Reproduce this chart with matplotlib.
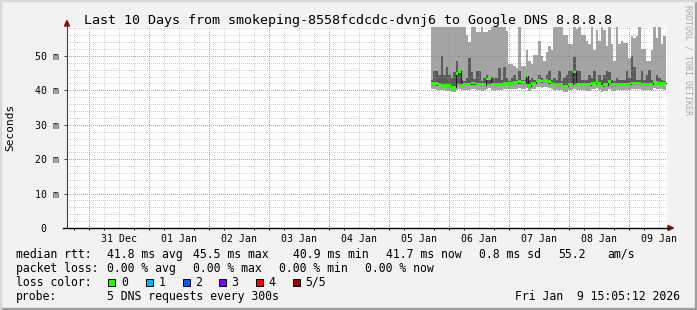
import numpy as np
import pandas as pd
import matplotlib
matplotlib.use("Agg")
import matplotlib.pyplot as plt
from matplotlib.patches import Rectangle, Polygon
from matplotlib.lines import Line2D

W, H = 697, 310
MONO = "DejaVu Sans Mono"

# hourly smokeping values (ms), first bin starts 05 Jan 16:40
# 5 pings sorted: light_low <= dark_low <= median <= dark_top <= light_top
light_top = [60, 60, 60, 60, 60, 60, 60, 60, 60, 60, 60, 60, 60, 60, 56.1, 54.0,
             60, 60, 56.9, 56.9, 60, 57.0, 57.0, 57.5,
             60, 60, 60, 60, 60, 60, 57.2, 47.6, 47.6, 47.0, 46.6, 60, 47.0, 47.0,
             51.7, 48.4, 47.6, 50.3, 50.3, 54.2, 49.9, 48.4, 51.1, 53.0,
             51.7, 60, 60, 60, 60, 56.1, 56.1, 53.5, 53.5, 60, 57.8, 60, 56.0, 56.0,
             54.2, 53.5, 60, 51.6, 57.5, 54.2, 60, 57.5, 53.0, 60,
             53.5, 48.6, 60, 53.5, 54.2, 53.7, 53.7, 49.3, 55.7, 55.2, 55.7, 60,
             52.0, 52.0, 48.6, 48.6, 51.6, 60, 55.2, 60, 53.5, 55.7]
dark_top = [43.0, 45.6, 45.6, 44.5, 50.0, 44.4, 46.9, 44.5, 43.6, 45.2, 48.6, 46.0,
            43.0, 42.6, 43.6, 49.3, 45.2, 43.2, 45.6, 45.6, 42.6, 43.6, 44.5, 43.6,
            44.0, 43.5, 43.5, 46.4, 42.9, 46.9, 43.5, 42.6, 43.5, 44.4, 43.0, 45.5,
            42.9, 43.0, 44.7, 43.0, 43.5, 43.0, 43.3, 44.4, 43.5, 43.3, 44.4, 45.7,
            43.0, 43.5, 43.0, 45.7, 42.8, 43.5, 44.4, 45.7, 45.7, 49.8, 46.0, 45.7,
            43.0, 43.0, 43.0, 44.4, 43.5, 45.7, 43.0, 44.4, 43.0, 44.4, 45.7, 45.2,
            43.0, 42.6, 43.5, 43.0, 43.0, 43.0, 45.7, 43.5, 50.1, 46.7, 43.0, 43.0,
            45.7, 43.0, 44.4, 45.9, 43.0, 43.0, 44.4, 43.5, 43.0, 42.6]
median = [41.9, 41.9, 41.9, 41.8, 41.5, 41.5, 41.5, 41.3, 40.9, 40.9, 44.8, 45.5,
          41.5, 41.7, 41.8, 41.8, 42.1, 42.1, 41.8, 41.8, 41.6, 41.6, 43.3, 43.3,
          41.8, 41.8, 41.8, 41.8, 41.8, 42.0, 42.0, 42.0, 42.0, 42.2, 42.2, 42.6,
          42.2, 42.2, 44.2, 41.3, 42.0, 42.0, 42.9, 42.9, 42.7, 42.9, 42.9, 42.5,
          42.0, 41.8, 41.8, 41.8, 41.8, 41.2, 41.2, 41.8, 41.8, 45.3, 41.8, 41.8,
          41.8, 41.8, 41.6, 41.6, 42.0, 42.0, 42.5, 42.0, 41.2, 41.6, 41.6, 42.5,
          41.6, 41.6, 41.8, 41.8, 41.8, 41.8, 41.8, 41.8, 42.1, 42.1, 42.1, 42.1,
          41.8, 41.8, 41.8, 41.8, 41.8, 42.6, 42.2, 42.0, 42.0, 42.0]
dark_low = [41.5, 41.5, 41.4, 41.4, 41.2, 41.2, 41.1, 41.0, 40.6, 40.6, 41.8, 41.9,
            41.2, 41.3, 41.4, 41.4, 41.6, 41.6, 41.4, 41.4, 41.2, 41.2, 41.9, 41.9,
            41.4, 41.4, 41.4, 41.4, 41.4, 41.6, 41.6, 41.6, 41.6, 41.7, 41.7, 41.9,
            41.7, 41.7, 41.9, 41.0, 41.6, 41.6, 42.3, 42.3, 42.1, 42.3, 42.3, 41.9,
            41.6, 41.4, 41.4, 41.4, 41.4, 40.9, 40.9, 41.4, 41.4, 41.7, 41.4, 41.4,
            41.4, 41.4, 41.2, 41.2, 41.6, 41.6, 42.0, 41.6, 40.9, 41.2, 41.2, 42.0,
            41.2, 41.2, 41.4, 41.4, 41.4, 41.4, 41.4, 41.4, 41.7, 41.7, 41.7, 41.7,
            41.4, 41.4, 41.4, 41.4, 41.4, 42.1, 41.8, 41.6, 41.6, 41.6]
light_low = [40.4, 40.3, 40.2, 40.2, 40.0, 40.0, 39.9, 39.8, 39.5, 39.6, 40.2, 40.5,
             40.0, 40.1, 40.2, 40.2, 40.4, 40.3, 40.1, 40.0, 39.9, 40.0, 40.5, 40.6,
             40.2, 40.1, 40.1, 40.0, 40.2, 40.4, 40.4, 40.3, 40.3, 40.5, 40.5, 40.8,
             40.5, 40.4, 40.6, 39.9, 40.3, 40.4, 40.9, 41.0, 40.8, 40.9, 41.0, 40.6,
             40.3, 40.1, 40.1, 40.2, 40.0, 39.6, 39.5, 40.0, 40.1, 40.3, 40.1, 40.0,
             40.1, 40.1, 39.9, 39.9, 40.3, 40.3, 40.6, 40.2, 39.6, 39.8, 39.9, 40.5,
             39.9, 39.9, 40.1, 40.1, 40.0, 40.0, 40.1, 40.0, 40.4, 40.4, 40.3, 40.3,
             40.0, 40.1, 40.1, 40.0, 40.1, 40.6, 40.4, 40.3, 40.3, 40.2]

ytick_vals = [0, 10, 20, 30, 40, 50]
ytick_labels = ["0  ", "10 m", "20 m", "30 m", "40 m", "50 m"]
loss_labels = ["0", "1", "2", "3", "4", "5/5"]
loss_colors = ["#26ff00", "#00b8ff", "#0059ff", "#7e00ff", "#ff0000", "#a10000"]

window_end = pd.Timestamp("2026-01-09 15:05:12")
window_start = window_end - pd.Timedelta(days=10)
edges = pd.date_range("2026-01-05 16:40", periods=len(median) + 1, freq="h")


def ext(a):
    a = np.asarray(a, dtype=float)
    return np.append(a, a[-1])


def fx(x):
    return x / W


def fy(y):
    return 1 - y / H


fig = plt.figure(figsize=(W / 100, H / 100), dpi=100, facecolor="#f2f2f2")
ax = fig.add_axes([fx(67), fy(228), 600 / W, 201 / H])
ax.set_facecolor("white")
ax.set_xlim(window_start, window_end)
ax.set_ylim(0, 58.4)

light = "#a4a4a4"
dark = "#5a5a5a"
kw = dict(step="post", linewidth=0, zorder=2)
ax.fill_between(edges, ext(light_low), ext(dark_low), color=light, **kw)
ax.fill_between(edges, ext(dark_low), ext(dark_top), color=dark, **kw)
ax.fill_between(edges, ext(dark_top), ext(light_top), color=light, **kw)
ax.step(edges, ext(median), where="post", color="#202020", lw=0.9, zorder=3)
med = ext(median)
ax.fill_between(edges, med - 0.4, med + 0.4, step="post", color="#26ff00",
                linewidth=0, zorder=4)

# grid drawn over the data, rrdtool style (dotted)
dots = (0, (1, 2))
major_c = (0.95, 0.35, 0.35, 0.7)
minor_c = (0.6, 0.6, 0.6, 0.45)
for t in pd.date_range("2025-12-30 18:00", window_end, freq="6h"):
    c = major_c if t.hour == 0 else minor_c
    ax.axvline(t, color=c, lw=0.72, ls=dots, zorder=5, antialiased=False)
for v in range(2, 59, 2):
    c = major_c if v % 10 == 0 else minor_c
    ax.axhline(v, color=c, lw=0.72, ls=dots, zorder=5, antialiased=False)

for s in ax.spines.values():
    s.set_visible(False)

noons = pd.date_range("2025-12-31 12:00", periods=10, freq="D")
ax.set_xticks(noons, [d.strftime("%d %b") for d in noons])
ax.set_xticks(pd.date_range("2025-12-30 18:00", window_end, freq="6h"), minor=True)
ax.set_yticks(ytick_vals, ytick_labels)
ax.tick_params(axis="x", which="major", length=0, pad=4.5, labelsize=7.1)
ax.tick_params(axis="x", which="minor", length=1.5, width=0.7, color="black")
ax.tick_params(axis="y", which="major", length=2, width=0.7, pad=4, labelsize=7.1,
               color="#404040")
for lab in ax.get_xticklabels() + ax.get_yticklabels():
    lab.set_fontfamily(MONO)

# axes lines and arrows
fig.add_artist(Line2D([fx(67), fx(67)], [fy(228), fy(25)], color="#404040", lw=0.8))
fig.add_artist(Line2D([fx(63), fx(669)], [fy(228), fy(228)], color="black", lw=1.0))
arrow = "#8b1010"
fig.add_artist(Polygon([(fx(64.5), fy(26)), (fx(69.5), fy(26)), (fx(67), fy(20.5))],
                       closed=True, color=arrow))
fig.add_artist(Polygon([(fx(668), fy(225.5)), (fx(668), fy(230.5)), (fx(673.5), fy(228))],
                       closed=True, color=arrow))

# frame shading
fig.add_artist(Rectangle((0, 0), 1, 2 / H, color="#9e9e9e"))
fig.add_artist(Rectangle((1 - 2 / W, 0), 2 / W, 1, color="#9e9e9e"))
fig.add_artist(Rectangle((0, 1 - 1 / H), 1, 1 / H, color="#d8d8d8"))
fig.add_artist(Rectangle((0, 0), 1 / W, 1, color="#d8d8d8"))

fig.text(0.5, fy(24), "Last 10 Days from smokeping-8558fcdcdc-dvnj6 to Google DNS 8.8.8.8",
         ha="center", va="baseline", fontsize=9.6, family=MONO)
fig.text(fx(10), fy(127.5), "Seconds", rotation=90, ha="center", va="center",
         fontsize=8, family=MONO)
fig.text(fx(688), fy(60), "RRDTOOL / TOBI OETIKER", rotation=-90, ha="center",
         va="center", fontsize=6, family=MONO, color="#a8a8a8")

legend_rows = [
    (257.7, [(16, "median rtt:"), (107.3, "41.8 ms avg"), (193.3, "45.5 ms max"),
             (293.3, "40.9 ms min"), (386, "41.7 ms now"), (479.3, "0.8 ms sd"),
             (558.3, "55.2"), (607.3, "am/s")]),
    (271.8, [(16, "packet loss:"), (107.3, "0.00 % avg"), (193.3, "0.00 % max"),
             (279.3, "0.00 % min"), (365, "0.00 % now")]),
    (285.8, [(16, "loss color:")]),
    (299.8, [(16, "probe:"), (107.3, "5 DNS requests every 300s")]),
]
for base, items in legend_rows:
    for x, s in items:
        fig.text(fx(x), fy(base), s, ha="left", va="baseline", fontsize=8.3, family=MONO)
fig.text(fx(680), fy(299.8), "Fri Jan  9 15:05:12 2026", ha="right", va="baseline",
         fontsize=8.3, family=MONO)

box_x = [108.3, 145.7, 182.7, 219, 256, 292.7]
for bx, lab, col in zip(box_x, loss_labels, loss_colors):
    fig.add_artist(Rectangle((fx(bx), fy(285.5)), 7 / W, 7 / H, facecolor=col,
                             edgecolor="black", lw=0.7))
    fig.text(fx(bx + 12.5), fy(285.8), lab, ha="left", va="baseline", fontsize=8.3,
             family=MONO)

fig.savefig("out.png", dpi=100, facecolor=fig.get_facecolor())
